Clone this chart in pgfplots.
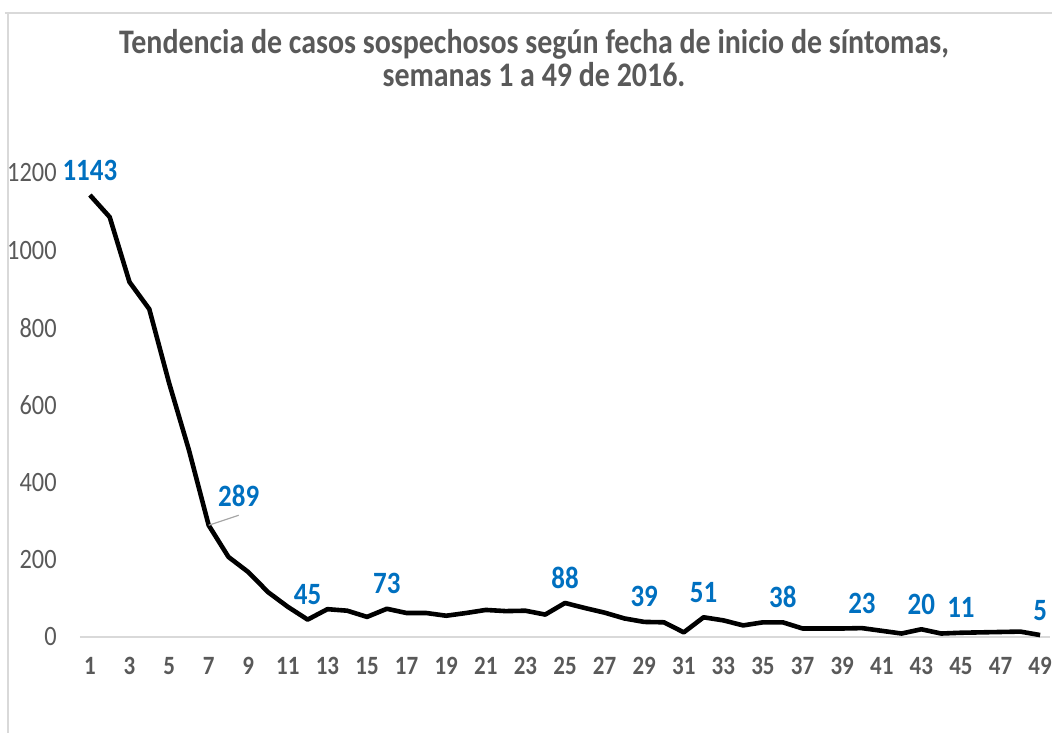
\documentclass[border=0pt]{standalone}
\usepackage{pgfplots}
\pgfplotsset{compat=1.18}
\usepackage{fontspec}
\setmainfont{Carlito}[FakeStretch=0.87]
\definecolor{txtgray}{HTML}{595959}
\definecolor{lblblue}{HTML}{0070C0}
\definecolor{axgray}{HTML}{D9D9D9}
\begin{document}
\begin{tikzpicture}
\begin{axis}[
  scale only axis,
  width=485pt, height=232pt,
  xmin=0.5, xmax=49.5,
  ymin=0, ymax=1200,
  clip=false,
  axis line style={draw=none},
  tick style={draw=none},
  major tick length=0pt,
  xtick={1,3,...,49},
  ytick={0,200,...,1200},
  /pgf/number format/assume math mode=true,
  /pgf/number format/1000 sep={},
  yticklabel style={font=\fontsize{14}{16}\selectfont, text=txtgray, anchor=east, inner sep=0pt, xshift=-11.5pt},
  xticklabel style={font=\fontsize{13.2}{15}\selectfont\bfseries, text=txtgray, anchor=center, inner sep=0pt, yshift=-14.5pt},
  scaled y ticks=false,
]
\draw[axgray, line width=1.2pt] (axis cs:0.5,0) -- (axis cs:49.5,0);
\addplot[black, line width=2.3pt, line join=round] coordinates {
(1,1143) (2,1086) (3,918) (4,848) (5,657) (6,484) (7,289) (8,207) (9,168) (10,116)
(11,78) (12,45) (13,72) (14,68) (15,52) (16,73) (17,62) (18,62) (19,55) (20,62)
(21,70) (22,67) (23,68) (24,58) (25,88) (26,75) (27,63) (28,48) (29,39) (30,38)
(31,12) (32,51) (33,43) (34,30) (35,38) (36,38) (37,22) (38,22) (39,22) (40,23)
(41,16) (42,9) (43,20) (44,9) (45,11) (46,12) (47,13) (48,14) (49,5)
};
\addplot[draw=none, nodes near coords, point meta=explicit symbolic,
  every node near coord/.style={anchor=center, yshift=12.5pt, text=lblblue, font=\fontsize{15.5}{17}\selectfont\bfseries, inner sep=0pt}]
  coordinates {
(1,1143)[1143] (12,45)[45] (16,73)[73] (25,88)[88] (29,39)[39] (32,51)[51]
(36,38)[38] (40,23)[23] (43,20)[20] (45,11)[11] (49,5)[5]
};
\addplot[draw=none, nodes near coords, point meta=explicit symbolic,
  every node near coord/.style={anchor=center, xshift=15pt, yshift=14.5pt, text=lblblue, font=\fontsize{15.5}{17}\selectfont\bfseries, inner sep=0pt}]
  coordinates {(7,289)[289]};
\draw[gray!70, line width=0.6pt] (axis cs:7,289) -- ++(15pt,5pt);
\end{axis}
\node[align=center, text=txtgray, font=\fontsize{17.2}{16.5}\selectfont\bfseries]
  at ([shift={(227pt,289.25pt)}]current axis.south west)
  {Tendencia de casos sospechosos según fecha de inicio de síntomas,\\semanas 1 a 49 de 2016.};
\draw[axgray, line width=0.8pt] ([shift={(-37.5pt,312pt)}]current axis.south west) -- ([shift={(486pt,312pt)}]current axis.south west);
\draw[axgray, line width=0.8pt] ([shift={(-36pt,312pt)}]current axis.south west) -- ([shift={(-36pt,-48pt)}]current axis.south west);
\pgfresetboundingbox
\path[use as bounding box] ([shift={(-40pt,-48pt)}]current axis.south west) rectangle ([shift={(486pt,318.5pt)}]current axis.south west);
\end{tikzpicture}
\end{document}
